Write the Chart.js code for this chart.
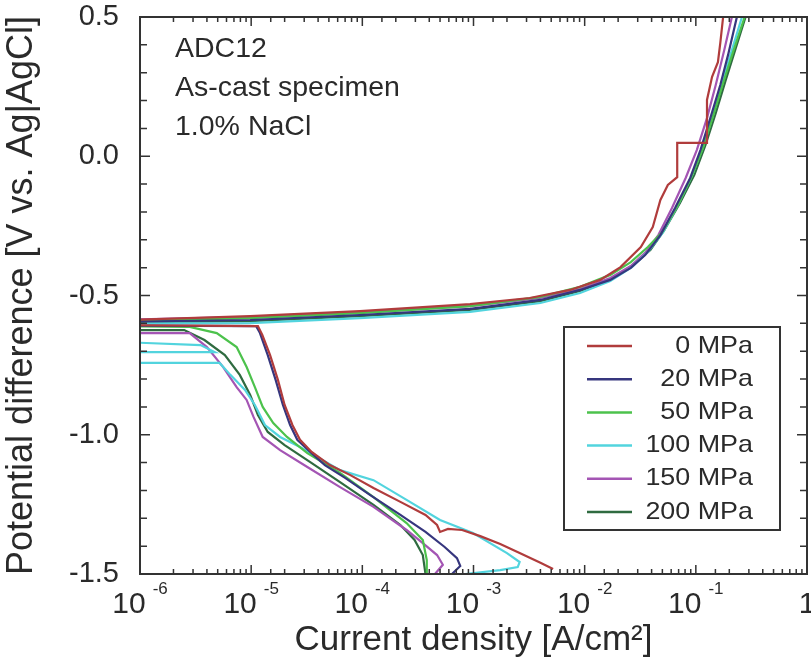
<!DOCTYPE html>
<html>
<head>
<meta charset="utf-8">
<script src="https://cdn.jsdelivr.net/npm/chart.js@4.4.1/dist/chart.umd.min.js"></script>
<style>
body{margin:0;background:#fff;}
canvas{display:block;}
</style>
</head>
<body>
<canvas id="polChart" width="811" height="666"></canvas>
<script>
// series labels
const pressures=['0 MPa','20 MPa','50 MPa','100 MPa','150 MPa','200 MPa'];

// current density [A/cm2] and potential [V], in sweep order (cathodic -> anodic)
const cur0=[5.2e-3,4.0e-3,2.6e-3,1.74e-3,1.15e-3,7.9e-4,5.9e-4,5.0e-4,4.7e-4,3.7e-4,2.2e-4,1.26e-4,7.8e-5,5.1e-5,3.5e-5,2.75e-5,2.35e-5,2.0e-5,1.74e-5,1.48e-5,1.26e-5,1.15e-5,5e-7,5e-7,9.8e-6,9.5e-5,9.3e-4,3.2e-3,7.4e-3,1.38e-2,2.1e-2,3.2e-2,4.1e-2,4.8e-2,5.6e-2,6.8e-2,6.8e-2,0.126,0.126,0.14,0.158,0.166,0.176];
const pot0=[-1.482,-1.460,-1.425,-1.392,-1.364,-1.342,-1.338,-1.349,-1.324,-1.288,-1.241,-1.191,-1.145,-1.109,-1.062,-1.018,-0.965,-0.893,-0.803,-0.714,-0.642,-0.610,-0.606,-0.590,-0.574,-0.556,-0.531,-0.509,-0.480,-0.444,-0.398,-0.326,-0.254,-0.157,-0.103,-0.075,0.048,0.048,0.202,0.285,0.338,0.407,0.500];

const cur20=[6.4e-4,7.6e-4,7.1e-4,5.5e-4,3.7e-4,2.2e-4,1.17e-4,7.0e-5,4.6e-5,3.4e-5,2.6e-5,2.24e-5,1.93e-5,1.66e-5,1.41e-5,1.2e-5,1.11e-5,5e-7,5e-7,9.8e-6,9.5e-5,9.3e-4,4.0e-3,9.1e-3,1.7e-2,2.6e-2,3.5e-2,4.8e-2,6.5e-2,8.9e-2,0.11,0.135,0.166,0.195,0.234];
const pot20=[-1.500,-1.471,-1.443,-1.403,-1.349,-1.288,-1.216,-1.155,-1.109,-1.062,-1.018,-0.965,-0.893,-0.803,-0.714,-0.635,-0.610,-0.608,-0.595,-0.588,-0.570,-0.548,-0.516,-0.480,-0.444,-0.401,-0.355,-0.283,-0.186,-0.078,0.022,0.137,0.256,0.364,0.500];

const cur50=[3.8e-4,3.8e-4,3.5e-4,2.5e-4,1.26e-4,6.3e-5,3.2e-5,2.1e-5,1.58e-5,1.27e-5,1.08e-5,9.1e-6,7.4e-6,4.9e-6,2.8e-6,5e-7,5e-7,9.8e-6,9.5e-5,9.3e-4,4.0e-3,9.1e-3,1.7e-2,2.6e-2,3.7e-2,5.0e-2,6.9e-2,9.2e-2,0.116,0.143,0.176,0.216,0.275];
const pot50=[-1.500,-1.450,-1.378,-1.317,-1.224,-1.137,-1.066,-1.008,-0.958,-0.900,-0.829,-0.757,-0.685,-0.635,-0.613,-0.610,-0.593,-0.581,-0.563,-0.538,-0.505,-0.469,-0.426,-0.380,-0.326,-0.272,-0.175,-0.071,0.030,0.145,0.263,0.374,0.500];

const cur100=[8.4e-4,1.74e-3,2.5e-3,2.6e-3,2.0e-3,9.9e-4,5.0e-4,2.5e-4,1.26e-4,6.3e-5,2.75e-5,1.82e-5,1.33e-5,1.08e-5,8.8e-6,6.5e-6,5.2e-6,5e-7,5e-7,4.7e-6,3.5e-6,5e-7,5e-7,9.8e-6,9.5e-5,9.3e-4,4.0e-3,9.1e-3,1.7e-2,2.66e-2,3.7e-2,5.1e-2,6.9e-2,9.2e-2,0.116,0.143,0.172,0.211,0.26];
const pot100=[-1.500,-1.486,-1.475,-1.457,-1.425,-1.353,-1.306,-1.234,-1.163,-1.127,-1.044,-1.008,-0.965,-0.893,-0.839,-0.785,-0.742,-0.742,-0.703,-0.703,-0.678,-0.665,-0.600,-0.599,-0.581,-0.559,-0.527,-0.491,-0.448,-0.398,-0.344,-0.272,-0.175,-0.071,0.033,0.148,0.267,0.381,0.500];

const cur150=[4.5e-4,5.3e-4,4.7e-4,3.5e-4,2.5e-4,1.26e-4,6.3e-5,3.2e-5,1.82e-5,1.27e-5,1.05e-5,9.1e-6,7.4e-6,5.6e-6,4.0e-6,2.8e-6,5e-7,5e-7,9.8e-6,9.5e-5,9.3e-4,4.0e-3,9.1e-3,1.7e-2,2.6e-2,3.5e-2,4.6e-2,6.1e-2,8.1e-2,0.102,0.126,0.151,0.18,0.211];
const pot150=[-1.500,-1.467,-1.432,-1.389,-1.342,-1.259,-1.188,-1.116,-1.055,-1.008,-0.936,-0.875,-0.829,-0.757,-0.685,-0.635,-0.635,-0.588,-0.577,-0.559,-0.538,-0.509,-0.477,-0.437,-0.394,-0.347,-0.283,-0.186,-0.078,0.022,0.137,0.256,0.381,0.500];

const cur200=[3.7e-4,3.5e-4,2.95e-4,2.2e-4,1.26e-4,6.3e-5,3.4e-5,2.0e-5,1.41e-5,1.15e-5,9.8e-6,7.9e-6,5.8e-6,3.8e-6,2.5e-6,5e-7,5e-7,9.8e-6,9.5e-5,9.3e-4,4.0e-3,9.1e-3,1.76e-2,2.7e-2,3.9e-2,5.2e-2,7.2e-2,9.7e-2,0.122,0.151,0.186,0.229,0.28];
const pot200=[-1.500,-1.432,-1.378,-1.324,-1.252,-1.170,-1.098,-1.037,-0.990,-0.929,-0.857,-0.785,-0.714,-0.660,-0.624,-0.624,-0.597,-0.592,-0.574,-0.552,-0.520,-0.484,-0.441,-0.391,-0.337,-0.265,-0.168,-0.067,0.040,0.155,0.274,0.389,0.500];

// tick labels
const yTickLabels=['-1.5','-1.0','-0.5','0.0','0.5'];
const xTickValues=[1e-6,1e-5,1e-4,1e-3,1e-2,1e-1,1];
const xTickBase=['10','10','10','10','10','10','1'];
const xTickExp=['-6','-5','-4','-3','-2','-1',''];

const noteLines=['ADC12','As-cast specimen','1.0% NaCl'];

const lineColors=['#b03c3c','#36367e','#4cc24c','#52d4de','#a455b4','#2f6b40'];
const FONT='"Liberation Sans", Arial, sans-serif';
const TXT='#2a2a2a';

function toPoints(cur,pot){
let pts=[];
let n=Math.min(cur.length,pot.length);
for(let i=0;i<n;i++){pts.push({x:cur[i],y:pot[i]});}
return pts;
}

const series=[toPoints(cur0,pot0),toPoints(cur20,pot20),toPoints(cur50,pot50),toPoints(cur100,pot100),toPoints(cur150,pot150),toPoints(cur200,pot200)];

const decor={
id:'decor',
afterDraw(chart){
const ctx=chart.ctx,a=chart.chartArea,xs=chart.scales.x,ys=chart.scales.y;
ctx.save();
ctx.strokeStyle='#333';
ctx.lineWidth=1.5;
// inward ticks
ys.ticks.forEach(t=>{
let v=t.value,py=ys.getPixelForValue(v);
let major=Math.abs(v*2-Math.round(v*2))<1e-6;
let len=major?10:7;
ctx.beginPath();
ctx.moveTo(a.left,py);ctx.lineTo(a.left+len,py);
ctx.moveTo(a.right,py);ctx.lineTo(a.right-len,py);
ctx.stroke();
});
xs.ticks.forEach(t=>{
let v=t.value,px=xs.getPixelForValue(v);
let lg=Math.log10(v);
let major=Math.abs(lg-Math.round(lg))<1e-6;
let len=major?9:5;
ctx.beginPath();
ctx.moveTo(px,a.bottom);ctx.lineTo(px,a.bottom-len);
ctx.moveTo(px,a.top);ctx.lineTo(px,a.top+len);
ctx.stroke();
});
// frame
ctx.lineWidth=2;
ctx.strokeRect(a.left,a.top,a.right-a.left,a.bottom-a.top);

ctx.fillStyle=TXT;
// y tick labels
ctx.font='29px '+FONT;
ctx.textAlign='right';
ctx.textBaseline='middle';
yTickLabels.forEach(s=>{
ctx.fillText(s,a.left-21,ys.getPixelForValue(parseFloat(s)));
});

// x tick labels with superscript exponent
ctx.textAlign='left';
xTickValues.forEach((v,i)=>{
let px=xs.getPixelForValue(v);
ctx.font='30px '+FONT;
let w1=ctx.measureText(xTickBase[i]).width;
ctx.font='17px '+FONT;
let w2=xTickExp[i]?ctx.measureText(xTickExp[i]).width+7:0;
let x0=px-(w1+w2)/2;
ctx.font='30px '+FONT;
ctx.fillText(xTickBase[i],x0,605);
if(xTickExp[i]){
ctx.font='17px '+FONT;
ctx.fillText(xTickExp[i],x0+w1+7,589);
}
});

// notes
ctx.font='28.5px '+FONT;
ctx.textBaseline='alphabetic';
noteLines.forEach((s,i)=>{ctx.fillText(s,175,57+i*39);});

// legend
let bx=564,by=327,bw=216,bh=203;
ctx.fillStyle='#fff';
ctx.fillRect(bx,by,bw,bh);
ctx.strokeStyle='#333';
ctx.lineWidth=2;
ctx.strokeRect(bx,by,bw,bh);
ctx.textBaseline='middle';
ctx.font='24px '+FONT;
chart.data.datasets.forEach((d,k)=>{
let yy=346+k*33.2;
ctx.strokeStyle=d.borderColor;
ctx.lineWidth=2.5;
ctx.beginPath();ctx.moveTo(587,yy);ctx.lineTo(632,yy);ctx.stroke();
ctx.fillStyle=TXT;
// reference legend text is a bit wide: stretch horizontally
ctx.save();
ctx.translate(753,yy);
ctx.scale(1.12,1);
ctx.textAlign='right';
ctx.fillText(d.label,0,0);
ctx.restore();
});
ctx.restore();
}
};

new Chart(document.getElementById('polChart'),{
type:'scatter',
data:{
datasets:pressures.map((p,k)=>({
label:p,
data:series[k],
showLine:true,
borderColor:lineColors[k],
backgroundColor:lineColors[k],
borderWidth:2.2,
pointRadius:0,
tension:0,
clip:0
}))
},
options:{
responsive:false,
animation:false,
layout:{padding:{top:17,right:4,left:0,bottom:0}},
plugins:{legend:{display:false},tooltip:{enabled:false}},
scales:{
x:{
type:'logarithmic',min:1e-6,max:1,
grid:{display:false},border:{display:false},
ticks:{display:false},
title:{display:true,text:'Current density [A/cm²]',color:TXT,font:{family:FONT,size:35},padding:{top:0,bottom:5}},
afterFit:s=>{s.height=92;}
},
y:{
type:'linear',min:-1.5,max:0.5,
grid:{display:false,drawTicks:false},border:{display:false},
ticks:{stepSize:0.1,autoSkip:false,display:false},
title:{display:true,text:'Potential difference [V vs. Ag|AgCl]',color:TXT,font:{family:FONT,size:36},padding:{top:0,bottom:0}},
afterFit:s=>{s.width=140;}
}
}
},
plugins:[decor]
});
</script>
</body>
</html>
